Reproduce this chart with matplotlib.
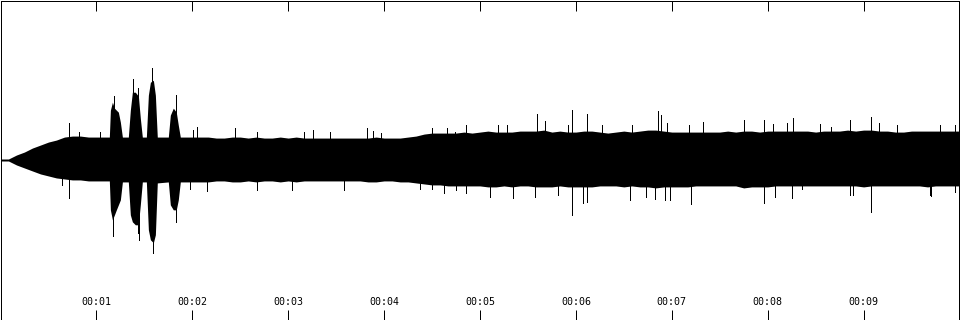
import matplotlib
matplotlib.use("Agg")
import matplotlib.pyplot as plt

# waveform envelope
# time in ms, level in 1/160 of full scale (top = positive peak, bottom = negative peak)
env_ms = [0, 63, 83, 167, 250, 333, 417, 500, 583, 667, 750, 833, 917, 1000, 1083,
          1135, 1146, 1167, 1188, 1208, 1229, 1250, 1271, 1333, 1354, 1375, 1406, 1438, 1458, 1479,
          1521, 1542, 1563, 1594, 1615, 1635, 1750, 1771, 1802, 1833, 1854, 1875,
          1917, 2000, 2083, 2167, 2250, 2333, 2417, 2500, 2583, 2667, 2750, 2833, 2917,
          3000, 3083, 3167, 3250, 3333, 3417, 3500, 3583, 3667, 3750, 3833, 3917,
          4000, 4083, 4167, 4250, 4333, 4417, 4500, 4583, 4667, 4750, 4833, 4917,
          5000, 5083, 5167, 5250, 5333, 5417, 5500, 5583, 5667, 5750, 5833, 5917,
          6000, 6083, 6167, 6250, 6333, 6417, 6500, 6583, 6667, 6750, 6833, 6917,
          7000, 7083, 7167, 7250, 7333, 7417, 7500, 7583, 7667, 7750, 7833, 7917,
          8000, 8083, 8167, 8250, 8333, 8417, 8500, 8583, 8667, 8750, 8833, 8917,
          9000, 9083, 9167, 9250, 9333, 9417, 9500, 9583, 9667, 9750, 9833, 9917, 10000]
env_top = [1, 1, 1, 5, 8, 12, 15, 18, 20, 23, 24, 24, 23, 23, 23,
           23, 50, 58, 52, 50, 48, 38, 23, 23, 50, 68, 68, 64, 42, 23,
           23, 65, 78, 80, 65, 23, 23, 45, 52, 48, 35, 23,
           23, 23, 23, 23, 22, 22, 23, 23, 22, 23, 22, 22, 23,
           22, 23, 22, 22, 22, 22, 22, 22, 22, 22, 22, 23,
           22, 22, 22, 23, 24, 26, 27, 27, 27, 27, 28, 27,
           28, 29, 28, 28, 28, 29, 29, 29, 30, 28, 29, 28,
           28, 29, 29, 28, 27, 28, 29, 28, 29, 30, 30, 29,
           28, 28, 28, 28, 28, 28, 28, 29, 28, 29, 29, 28,
           29, 29, 29, 29, 29, 29, 28, 29, 29, 29, 30, 29,
           30, 30, 29, 29, 28, 28, 29, 29, 29, 29, 29, 29, 29]
env_bot = [-1, -1, -1, -5, -8, -11, -14, -16, -18, -19, -20, -20, -21, -21, -21,
           -21, -50, -60, -55, -50, -45, -40, -22, -22, -55, -62, -65, -65, -45, -22,
           -22, -70, -80, -83, -75, -23, -22, -45, -50, -50, -40, -22,
           -22, -22, -22, -22, -21, -21, -22, -22, -21, -22, -21, -21, -22,
           -21, -22, -21, -21, -21, -21, -21, -21, -21, -21, -22, -22,
           -21, -21, -22, -22, -23, -24, -25, -25, -26, -26, -26, -26,
           -26, -27, -27, -26, -27, -26, -26, -27, -27, -27, -26, -27,
           -27, -27, -27, -26, -26, -26, -27, -26, -27, -27, -28, -27,
           -27, -27, -27, -26, -26, -26, -26, -26, -26, -28, -27, -27,
           -27, -26, -26, -26, -26, -26, -26, -26, -26, -26, -26, -26,
           -27, -26, -26, -26, -26, -26, -26, -26, -27, -26, -26, -26, -26]

# single-sample peaks sticking out of the envelope
peak_up_ms = [719, 823, 1042, 1188, 1385, 1438, 1583, 1833, 2010, 2052, 2448, 2677,
              3167, 3260, 3438, 3823, 3885, 3969, 4500, 4656, 4740, 4854, 5188, 5281,
              5594, 5677, 5917, 5958, 6115, 6271, 6583, 6854, 6885, 6948, 7177, 7323,
              7750, 7958, 8052, 8198, 8260, 8542, 8656, 8854, 9073, 9156, 9344, 9792, 9948]
peak_up = [37, 28, 28, 64, 81, 72, 92, 65, 30, 33, 32, 28,
           28, 30, 28, 32, 29, 27, 32, 32, 28, 35, 35, 35,
           46, 39, 35, 50, 46, 35, 35, 49, 45, 37, 35, 38,
           40, 40, 36, 37, 42, 36, 33, 40, 43, 37, 35, 35, 35]
peak_dn_ms = [646, 719, 1177, 1438, 1448, 1594, 1833, 1979, 2156, 2677, 3042, 3583,
              4375, 4500, 4625, 4750, 4854, 5104, 5344, 5573, 5813, 5958, 6073, 6115,
              6563, 6729, 6823, 6927, 6979, 7198, 7958, 8073, 8250, 8354, 8854, 8885,
              9073, 9688, 9708, 9948]
peak_dn = [-25, -38, -76, -73, -80, -93, -62, -29, -31, -30, -30, -30,
           -29, -29, -33, -30, -33, -37, -38, -37, -35, -55, -43, -42,
           -40, -37, -39, -40, -40, -44, -43, -37, -38, -29, -35, -35,
           -52, -35, -36, -32]

tick_ms = [1000, 2000, 3000, 4000, 5000, 6000, 7000, 8000, 9000]
tick_labels = ["00:01", "00:02", "00:03", "00:04", "00:05", "00:06", "00:07", "00:08", "00:09"]

fig = plt.figure(figsize=(9.6, 3.2), dpi=100)
ax = fig.add_axes([0.5 / 960, 0.5 / 320, 959 / 960, 319 / 320])

ax.fill_between(env_ms, env_bot, env_top, color="black", linewidth=0, antialiased=False)
ax.vlines(peak_up_ms, 0, peak_up, color="black", linewidth=0.5, antialiased=False)
ax.vlines(peak_dn_ms, peak_dn, 0, color="black", linewidth=0.5, antialiased=False)

ax.set_xlim(0, 10000)
ax.set_ylim(-160, 160)

# ticks on both edges, pointing inward; labels drawn inside the plot
ax.set_xticks(tick_ms)
ax.set_yticks([])
ax.tick_params(axis="x", direction="in", length=7.2, width=0.72, top=True, bottom=True,
               labelbottom=False, color="black")
for t, lab in zip(tick_ms, tick_labels):
    ax.text(t, 0.056, lab, transform=ax.get_xaxis_transform(), ha="center", va="center",
            fontsize=7.2, family="DejaVu Sans Mono", color="black")

for s in ax.spines.values():
    s.set_linewidth(0.72)
    s.set_color("black")

fig.savefig("out.png", dpi=100)
